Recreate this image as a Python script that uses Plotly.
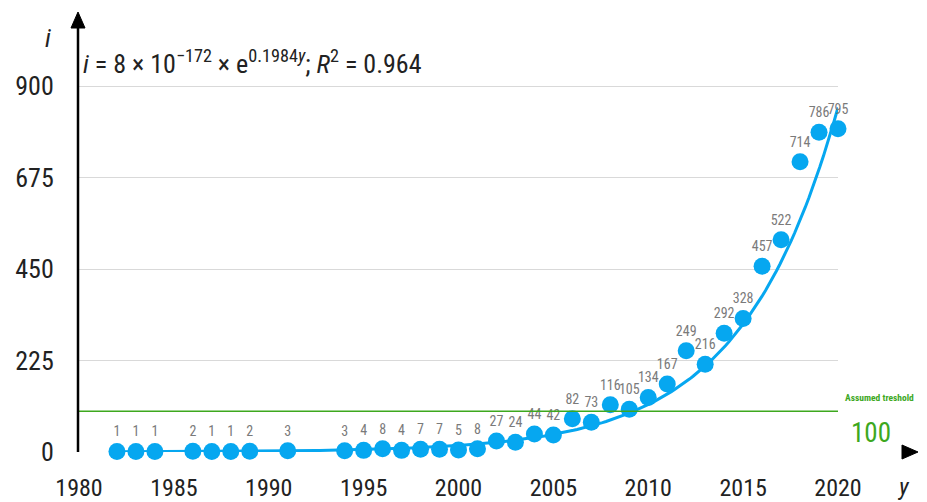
import numpy as np
import plotly.graph_objects as go

years = [1982, 1983, 1984, 1986, 1987, 1988, 1989, 1991, 1994, 1995, 1996, 1997,
         1998, 1999, 2000, 2001, 2002, 2003, 2004, 2005, 2006, 2007, 2008, 2009,
         2010, 2011, 2012, 2013, 2014, 2015, 2016, 2017, 2018, 2019, 2020]
counts = [1, 1, 1, 2, 1, 1, 2, 3, 3, 4, 8, 4,
          7, 7, 5, 8, 27, 24, 44, 42, 82, 73, 116, 105,
          134, 167, 249, 216, 292, 328, 457, 522, 714, 786, 795]
x_ticks = [1980, 1985, 1990, 1995, 2000, 2005, 2010, 2015, 2020]
y_ticks = [0, 225, 450, 675, 900]
threshold = 100

BLUE = "#06A7F0"
GREEN = "#3DA81E"
FONT = "Liberation Sans Narrow, Roboto Condensed, Arial Narrow, sans-serif"

# exponential trend line fitted (least squares on ln) like a spreadsheet trendline
b, ln_a = np.polyfit(np.array(years, float), np.log(np.array(counts, float)), 1)
tx = np.linspace(years[0], years[-1], 200)
ty = np.exp(ln_a + b * tx)

fig = go.Figure()
fig.add_trace(go.Scatter(x=tx, y=ty, mode="lines",
                         line=dict(color=BLUE, width=3), hoverinfo="skip",
                         showlegend=False, cliponaxis=False))
fig.add_trace(go.Scatter(x=years, y=counts, mode="markers+text",
                         marker=dict(color=BLUE, size=17),
                         text=[str(c) for c in counts], textposition="top center",
                         textfont=dict(family=FONT, size=14, color="#7A7A7A"),
                         showlegend=False, cliponaxis=False))

fig.add_hline(y=threshold, line=dict(color=GREEN, width=1.5))

# page body has an 8px margin: figure is drawn at (8, 8) in the window
OFF = 8
W, H = 927 - OFF, 502 - OFF
L, R, T, B = 79 - OFF, 89, 15 - OFF, 50
pw, ph = W - L - R, H - T - B
def px(x): return (x - OFF - L) / pw          # window pixel -> paper
def py(y): return (H - B - (y - OFF)) / ph

shapes = [
    # x axis line + arrow
    dict(type="line", xref="paper", yref="paper", x0=px(78), x1=px(908), y0=0, y1=0,
         line=dict(color="black", width=2.5)),
    dict(type="path", xref="paper", yref="paper",
         path=f"M {px(902)},{py(445)} L {px(918)},{py(452)} L {px(902)},{py(459)} Z",
         fillcolor="black", line=dict(color="black", width=1)),
    # y axis line + arrow
    dict(type="line", xref="paper", yref="paper", x0=px(78), x1=px(78), y0=0, y1=py(22),
         line=dict(color="black", width=2.5)),
    dict(type="path", xref="paper", yref="paper",
         path=f"M {px(71)},{py(28)} L {px(78)},{py(12)} L {px(85)},{py(28)} Z",
         fillcolor="black", line=dict(color="black", width=1)),
]

annotations = [
    dict(xref="paper", yref="paper", x=px(48), y=py(38), text="<i>i</i>", showarrow=False,
         xanchor="center", yanchor="middle",
         font=dict(family=FONT, size=26, color="#222")),
    dict(xref="paper", yref="paper", x=px(903), y=py(487), text="<i>y</i>", showarrow=False,
         xanchor="center", yanchor="middle",
         font=dict(family=FONT, size=24, color="#222")),
    dict(xref="paper", yref="paper", x=px(81), y=py(62), xanchor="left", yanchor="middle",
         text="<i>i</i> = 8 × 10<sup>−172</sup> × e<sup>0.1984<i>y</i></sup>; <i>R</i><sup>2</sup> = 0.964",
         showarrow=False, font=dict(family=FONT, size=26, color="#222")),
    dict(xref="paper", yref="y", x=px(916), y=threshold, yshift=6, yanchor="bottom",
         xanchor="right",
         text="<b>Assumed treshold</b>", showarrow=False,
         font=dict(family=FONT, size=9.5, color=GREEN)),
    dict(xref="paper", yref="y", x=px(849), y=threshold, yshift=-4, yanchor="top", xanchor="left",
         text=str(threshold), showarrow=False,
         font=dict(family=FONT, size=27, color=GREEN)),
]

fig.update_layout(
    width=W, height=H,
    margin=dict(l=L, r=R, t=T, b=B),
    plot_bgcolor="white", paper_bgcolor="white",
    shapes=shapes, annotations=annotations,
    xaxis=dict(range=[1980, 2020], tickvals=x_ticks, showgrid=False, zeroline=False,
               showline=False, ticks="outside", ticklen=14, tickcolor="rgba(0,0,0,0)",
               automargin=False,
               tickfont=dict(family=FONT, size=24, color="#222")),
    yaxis=dict(range=[0, 900 / ((452 - 86) / ph)], tickvals=y_ticks, showgrid=True,
               gridcolor="#D9D9D9", gridwidth=1, zeroline=False, showline=False,
               ticks="outside", ticklen=19, tickcolor="rgba(0,0,0,0)", automargin=False,
               tickfont=dict(family=FONT, size=26, color="#222")),
)

fig.write_html("out.html")
